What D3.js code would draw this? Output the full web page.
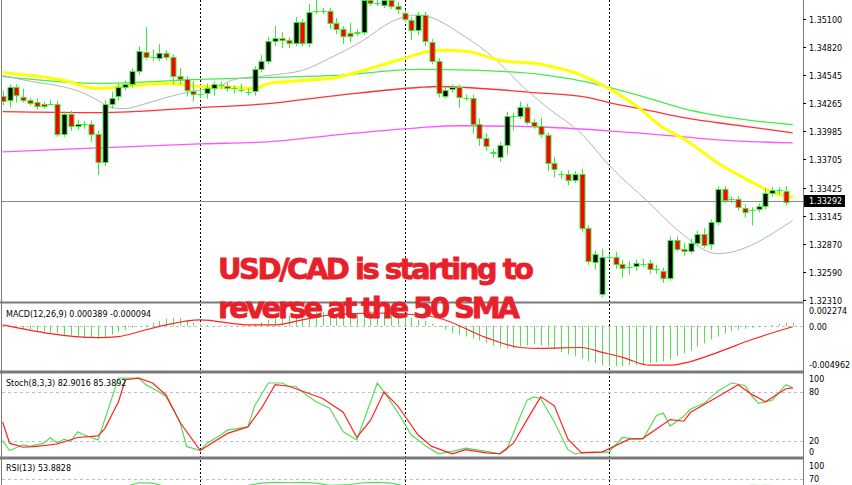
<!DOCTYPE html>
<html>
<head>
<meta charset="utf-8">
<script src="https://cdn.jsdelivr.net/npm/d3@7"></script>
<style>
  body { margin: 0; background: #fff; }
  svg { display: block; }
  text { font-family: "DejaVu Sans", sans-serif; }
</style>
</head>
<body>
<svg id="chart" width="852" height="485"></svg>
<script>
// USD/CAD H1 candles
var opens = [1.3434,1.3429,1.3442,1.3433,1.3430,1.3428,1.3426,1.3426,1.3426,1.3396,
  1.3416,1.3404,1.3406,1.3406,1.3396,1.3368,1.3426,1.3433,1.3442,1.3445,
  1.3458,1.3477,1.3472,1.3471,1.3476,1.3472,1.3453,1.3450,1.3439,1.3436,
  1.3436,1.3441,1.3444,1.3443,1.3441,1.3440,1.3438,1.3438,1.3460,1.3468,
  1.3488,1.3491,1.3489,1.3486,1.3507,1.3486,1.3518,1.3518,1.3518,1.3506,
  1.3500,1.3496,1.3496,1.3497,1.3529,1.3526,1.3524,1.3529,1.3523,1.3516,
  1.3509,1.3499,1.3514,1.3487,1.3468,1.3434,1.3440,1.3442,1.3432,1.3432,
  1.3406,1.3392,1.3378,1.3373,1.3385,1.3414,1.3414,1.3423,1.3408,1.3404,
  1.3395,1.3367,1.3356,1.3356,1.3350,1.3356,1.3302,1.3269,1.3237,1.3274,
  1.3274,1.3267,1.3264,1.3265,1.3267,1.3268,1.3262,1.3260,1.3253,1.3291,
  1.3282,1.3280,1.3288,1.3297,1.3286,1.3308,1.3341,1.3331,1.3331,1.3322,
  1.3320,1.3321,1.3324,1.3337,1.3340,1.3339];
var closes = [1.3429,1.3442,1.3434,1.3430,1.3427,1.3424,1.3424,1.3426,1.3396,1.3416,
  1.3404,1.3406,1.3406,1.3396,1.3368,1.3426,1.3432,1.3442,1.3445,1.3458,
  1.3478,1.3472,1.3472,1.3476,1.3472,1.3453,1.3450,1.3439,1.3436,1.3436,
  1.3441,1.3445,1.3444,1.3441,1.3441,1.3440,1.3438,1.3460,1.3468,1.3488,
  1.3491,1.3489,1.3486,1.3507,1.3486,1.3517,1.3518,1.3518,1.3506,1.3500,
  1.3493,1.3493,1.3497,1.3529,1.3526,1.3526,1.3529,1.3523,1.3520,1.3510,
  1.3499,1.3514,1.3488,1.3468,1.3436,1.3440,1.3442,1.3432,1.3432,1.3406,
  1.3392,1.3384,1.3377,1.3385,1.3414,1.3414,1.3423,1.3408,1.3404,1.3396,
  1.3367,1.3361,1.3356,1.3350,1.3356,1.3302,1.3269,1.3277,1.3274,1.3274,
  1.3267,1.3263,1.3264,1.3268,1.3267,1.3262,1.3262,1.3253,1.3291,1.3282,
  1.3280,1.3288,1.3297,1.3286,1.3308,1.3341,1.3330,1.3331,1.3323,1.3318,
  1.3320,1.3324,1.3337,1.3340,1.3340,1.3328];
// wick lengths in pips above / below the body
var wickUp = [5,3,3,8,2,3,2,4,3,2, 3,4,3,3,3,3,6,4,4,3, 5,25,8,9,3,3,8,3,9,5,
  5,3,4,4,3,6,3,3,6,4, 12,6,3,5,3,8,15,3,3,5, 3,10,3,3,3,3,6,3,4,3,
  3,3,3,3,3,3,3,3,3,3, 5,5,3,3,4,3,5,3,3,8, 2,6,3,4,3,5,3,3,8,3,
  5,4,6,3,5,3,4,3,3,3, 6,4,3,5,3,3,3,3,3,4, 3,3,5,3,3,5];
var wickDn = [5,7,7,3,3,4,3,2,3,3, 5,4,5,8,13,4,5,4,3,3, 3,3,4,3,3,8,5,6,8,5,
  5,7,4,3,5,3,4,4,3,3, 5,8,5,3,3,4,3,3,6,5, 8,6,3,3,3,3,3,3,5,3,
  10,5,5,3,4,3,3,10,3,10, 8,5,5,5,10,15,3,3,3,4, 8,8,5,5,3,3,3,8,3,3,
  5,10,8,5,3,5,5,5,3,3, 5,3,3,3,5,3,3,4,3,5, 15,3,3,3,4,3];

// moving averages as [candle, price]
var smaGray = [[0,1.3454],[5,1.3447],[8,1.3444],[12,1.3436],[14,1.3429],[16,1.3422],[18,1.3421],[20,1.3424],
  [24,1.3432],[27,1.3437],[32,1.3444],[34,1.3450],[39,1.3454],[44,1.3459],[48,1.3471],[53,1.3489],[57,1.3507],
  [61,1.3514],[68,1.3492],[72,1.3472],[77,1.3439],[80,1.3422],[85,1.3396],[89,1.3365],[95,1.3327],[99,1.3301],
  [105,1.3277],[116,1.3310]];
var smaYellow = [[0,1.3457],[4,1.3454],[9,1.3449],[14,1.3441],[19,1.3444],[24,1.3446],[29,1.3443],[34,1.3442],
  [37,1.3441],[39,1.3446],[44,1.3449],[49,1.3452],[53,1.3459],[58,1.3469],[64,1.3479],[68,1.3478],[73,1.3469],
  [79,1.3465],[85,1.3454],[89,1.3441],[93,1.3424],[97,1.3402],[100,1.3391],[105,1.3367],[110,1.3348],[113,1.3338],[116,1.3333]];
var smaGreen = [[0,1.3453],[14,1.3446],[29,1.3450],[39,1.3452],[49,1.3454],[61,1.3460],[70,1.3459],[80,1.3454],
  [86,1.3447],[89,1.3442],[95,1.3431],[100,1.3421],[105,1.3414],[116,1.3405]];
var smaRed = [[0,1.3418],[14,1.3417],[29,1.3422],[39,1.3426],[49,1.3434],[61,1.3442],[64,1.3443],[68,1.3442],
  [78,1.3437],[86,1.3432],[89,1.3427],[95,1.3419],[100,1.3412],[105,1.3407],[116,1.3397]];
var smaMagenta = [[0,1.3378],[14,1.3382],[29,1.3386],[39,1.3388],[49,1.3395],[61,1.3402],[67,1.3404],[78,1.3403],
  [89,1.3399],[100,1.3393],[105,1.3390],[116,1.3387]];

// MACD histogram per candle (units of 0.0001) and signal line
var macdHist = [0,-0.1,-2.3,-3.4,-4.5,-5.7,-6.8,-7.9,-9,-10.2, -11.3,-12.4,-13.6,-13.6,-14.7,-13.6,-10.2,-6.8,-4.5,-2.3,
  0,1.1,3.4,5.7,7.9,9,9,6.8,3.4,2.3, 1.1,0.6,0.6,1.1,0,0,0.6,2.3,4.5,6.8,
  9,10.2,11.3,12.4,13.6,14.7,15.8,15.8,15.8,14.7, 13.6,12.4,13.6,14.7,17,17,15.8,14.7,13.6,11.3,
  9,6.8,5.7,2.3,-1.1,-4.5,-7.9,-10.2,-12.4,-14.7, -17,-19.2,-22.6,-24.9,-26,-26,-23.7,-22.6,-21.5,-22.6,
  -23.7,-27.1,-30.5,-32.8,-35,-37.3,-40.7,-42.9,-45.2,-46.3, -46.3,-46.3,-45.2,-45.2,-44.1,-42.9,-41.8,-40.7,-38.4,-35,
  -31.6,-28.3,-23.7,-20.3,-15.8,-12.4,-9,-5.7,-4.5,-3.4, -2.3,-1.1,0,1.1,2.3,3.4,3.4];
var macdSignal = [[0,1.1],[14,-13.6],[17,-12.4],[20,-6.8],[24,1.1],[29,6.8],[36,1.1],[40,1.1],[44,6.8],[48,12.4],
  [55,14.7],[61,12.4],[64,9],[71,-13.6],[76,-24.9],[79,-26],[85,-24.9],[88,-30.5],[91,-36.2],[95,-45.2],
  [98,-45.2],[100,-42.9],[105,-30.5],[110,-15.8],[116,-1.1]];

// Stochastic (8,3,3)
var stochK = [[0,20],[1,8],[3,15],[4,13],[6,17],[7,24],[8,17],[9,22],[10,19],[11,31],[12,27],[13,24],[14,21],
  [17,97],[20,97],[21,89],[23,80],[24,74],[26,44],[27,13],[29,8],[30,17],[32,27],[33,33],[36,37],[37,63],[39,91],
  [41,91],[42,87],[43,87],[44,80],[46,68],[48,60],[50,31],[52,21],[55,91],[56,80],[58,55],[60,27],[61,21],[62,14],
  [64,4],[66,7],[68,11],[71,7],[73,4],[74,9],[76,50],[77,70],[78,74],[79,72],[81,43],[83,9],[84,4],[86,6],[89,6],
  [91,24],[93,22],[94,22],[96,51],[97,54],[98,38],[100,50],[101,59],[103,66],[105,81],[107,91],[109,88],[110,75],
  [111,66],[113,70],[115,89],[116,85]];
var stochD = [[0,43],[1,17],[3,12],[5,13],[8,16],[11,24],[14,26],[15,35],[17,68],[18,95],[20,97],[22,91],[24,76],
  [26,43],[29,8],[33,29],[36,37],[38,60],[40,89],[42,87],[47,72],[50,55],[52,24],[54,45],[56,80],[58,63],[61,27],
  [63,13],[66,4],[68,9],[71,5],[73,4],[75,17],[77,46],[79,74],[81,63],[83,22],[85,5],[88,6],[92,22],[94,23],
  [98,46],[100,44],[101,55],[105,74],[108,89],[110,77],[112,68],[115,84],[116,85]];

// RSI(13), only its top shows
var rsi = [[0,48],[10,45],[18,52],[20,61],[22,60],[24,52],[30,50],[36,55],[38,60],[40,62],[42,61],[44,62],[46,60],
  [48,55],[51,57],[53,61],[55,62],[57,60],[60,50],[70,35],[80,45],[90,30],[100,45],[110,55],[116,54]];

var priceTicks = [1.35100,1.34820,1.34545,1.34265,1.33985,1.33705,1.33425,1.33145,1.32870,1.32590,1.32310];
var lastPrice = 1.33292;
var sessionLines = [29, 59, 89]; // candles where the dotted day lines sit

var svg = d3.select("#chart");
var axisX = 803, left = 2;

var x = d3.scaleLinear().domain([0, 116]).range([2.7, 792.7]);
var yP = d3.scaleLinear().domain([1.32310, 1.35100]).range([300, 19]);
var yM = d3.scaleLinear().domain([-49.62, 22.74]).range([369, 306]);
var yS = d3.scaleLinear().domain([0, 100]).range([457, 375.7]);
var yR = d3.scaleLinear().domain([0, 100]).range([509, 466]);

var green = "#33ee33", red = "#ff0000";

// panel clips
function clip(id, y0, y1) {
  svg.append("clipPath").attr("id", id).append("rect")
    .attr("x", left).attr("y", y0).attr("width", axisX - left).attr("height", y1 - y0);
}
clip("cMain", 0, 302); clip("cMacd", 305, 371); clip("cSto", 375, 457); clip("cRsi", 460, 485);

// dotted day lines
svg.selectAll(".day").data(sessionLines).enter().append("line")
  .attr("x1", function(d) { return Math.round(x(d)) + 0.5; })
  .attr("x2", function(d) { return Math.round(x(d)) + 0.5; })
  .attr("y1", 0).attr("y2", 485)
  .attr("stroke", "#000").attr("stroke-dasharray", "2,2").attr("stroke-width", 1);

// dashed level lines
[yM(0), yS(80), yS(20), yR(70)].forEach(function(d) {
  svg.append("line").attr("x1", left).attr("x2", axisX).attr("y1", Math.round(d) + 0.5).attr("y2", Math.round(d) + 0.5)
    .attr("stroke", "#c0c0c0").attr("stroke-dasharray", "3,3");
});

var main = svg.append("g").attr("clip-path", "url(#cMain)");

// current price line
main.append("line").attr("x1", left).attr("x2", axisX)
  .attr("y1", Math.round(yP(lastPrice)) + 0.5).attr("y2", Math.round(yP(lastPrice)) + 0.5)
  .attr("stroke", "#8a8a8a");

var line = d3.line().x(function(d) { return x(d[0]); }).y(function(d) { return yP(d[1]); }).curve(d3.curveMonotoneX);
[[smaMagenta, "#ff55ff", 1.3], [smaRed, "#ff3333", 1.3], [smaGreen, "#44ee44", 1.3],
 [smaGray, "#b5b5b5", 1], [smaYellow, "#ffff00", 3]].forEach(function(s) {
  main.append("path").datum(s[0]).attr("d", line).attr("fill", "none")
    .attr("stroke", s[1]).attr("stroke-width", s[2]);
});

// candles
var candles = opens.map(function(o, i) {
  var c = closes[i];
  return { i: i, o: o, c: c, h: Math.max(o, c) + wickUp[i] * 0.0001, l: Math.min(o, c) - wickDn[i] * 0.0001 };
});
var cg = main.selectAll(".candle").data(candles).enter().append("g");
cg.append("line")
  .attr("x1", function(d) { return Math.round(x(d.i)) + 0.5; })
  .attr("x2", function(d) { return Math.round(x(d.i)) + 0.5; })
  .attr("y1", function(d) { return yP(d.h); }).attr("y2", function(d) { return yP(d.l); })
  .attr("stroke", green);
cg.append("rect")
  .attr("x", function(d) { return Math.round(x(d.i)) - 2; })
  .attr("y", function(d) { return Math.round(yP(Math.max(d.o, d.c))) + 0.5; })
  .attr("width", 5)
  .attr("height", function(d) { return Math.max(0.01, Math.round(Math.abs(yP(d.o) - yP(d.c)))); })
  .attr("fill", function(d) { return d.c > d.o ? "#000" : red; })
  .attr("stroke", green);

// MACD
var macd = svg.append("g").attr("clip-path", "url(#cMacd)");
macd.selectAll(".h").data(macdHist).enter().append("line")
  .attr("x1", function(d, i) { return Math.round(x(i)) + 0.5; })
  .attr("x2", function(d, i) { return Math.round(x(i)) + 0.5; })
  .attr("y1", yM(0)).attr("y2", function(d) { return yM(d); })
  .attr("stroke", "#55dd55");
macd.append("path").datum(macdSignal)
  .attr("d", d3.line().x(function(d) { return x(d[0]); }).y(function(d) { return yM(d[1]); }).curve(d3.curveMonotoneX))
  .attr("fill", "none").attr("stroke", "#ff2222").attr("stroke-width", 1.2);

// Stochastic
var sto = svg.append("g").attr("clip-path", "url(#cSto)");
var sLine = d3.line().x(function(d) { return x(d[0]); }).y(function(d) { return yS(d[1]); });
sto.append("path").datum(stochK).attr("d", sLine).attr("fill", "none").attr("stroke", "#55dd55").attr("stroke-width", 1.2);
sto.append("path").datum(stochD).attr("d", sLine).attr("fill", "none").attr("stroke", "#ff2222").attr("stroke-width", 1.2);

// RSI
svg.append("g").attr("clip-path", "url(#cRsi)").append("path").datum(rsi)
  .attr("d", d3.line().x(function(d) { return x(d[0]); }).y(function(d) { return yR(d[1]); }))
  .attr("fill", "none").attr("stroke", "#55dd55").attr("stroke-width", 1.2);

// panel borders
[[302.5, 2], [372, 3], [458, 3]].forEach(function(b) {
  svg.append("rect").attr("x", 0).attr("y", b[0] - b[1] / 2).attr("width", axisX + 1).attr("height", b[1]).attr("fill", "#7a7a7a");
});
svg.append("line").attr("x1", 1.5).attr("x2", 1.5).attr("y1", 0).attr("y2", 485).attr("stroke", "#7a7a7a");
svg.append("line").attr("x1", axisX + 0.5).attr("x2", axisX + 0.5).attr("y1", 0).attr("y2", 485).attr("stroke", "#7a7a7a");

// right axis labels
var ax = svg.append("g").style("font-size", "8px").attr("fill", "#000");
function label(y, t, tick) {
  if (tick) ax.append("line").attr("x1", axisX).attr("x2", axisX + 3).attr("y1", y).attr("y2", y).attr("stroke", "#000");
  ax.append("text").attr("x", axisX + 6).attr("y", y + 3).text(t);
}
priceTicks.forEach(function(p) { label(Math.round(yP(p)) + 0.5, p.toFixed(5), true); });
label(311, "0.002274"); label(327, "0.00"); label(365, "-0.004962");
label(379, "100"); label(392, "80"); label(441, "20"); label(452, "0");
label(466, "100"); label(479, "70");

// current price box
var ly = Math.round(yP(lastPrice));
svg.append("rect").attr("x", axisX + 1).attr("y", ly - 6).attr("width", 41).attr("height", 12).attr("fill", "#000");
svg.append("text").attr("x", axisX + 6).attr("y", ly + 3).attr("fill", "#fff").style("font-size", "8px").text(lastPrice.toFixed(5));

// indicator captions
var cap = svg.append("g").style("font-size", "8px").attr("fill", "#000");
cap.append("text").attr("x", 6).attr("y", 317).text("MACD(12,26,9) 0.000389 -0.000094");
cap.append("text").attr("x", 6).attr("y", 386).text("Stoch(8,3,3) 82.9016 85.3892");
cap.append("text").attr("x", 6).attr("y", 471).text("RSI(13) 53.8828");

// headline
var hl = svg.append("g").attr("fill", "#e8202a").attr("stroke", "#e8202a").attr("stroke-width", 0.8)
  .style("font-family", "'Open Sans', sans-serif").style("font-weight", "bold").style("font-size", "29px");
hl.append("text").attr("x", 218).attr("y", 279).attr("textLength", 316).text("USD/CAD is starting to");
hl.append("text").attr("x", 218).attr("y", 318).attr("textLength", 302).text("reverse at the 50 SMA");
</script>
</body>
</html>
